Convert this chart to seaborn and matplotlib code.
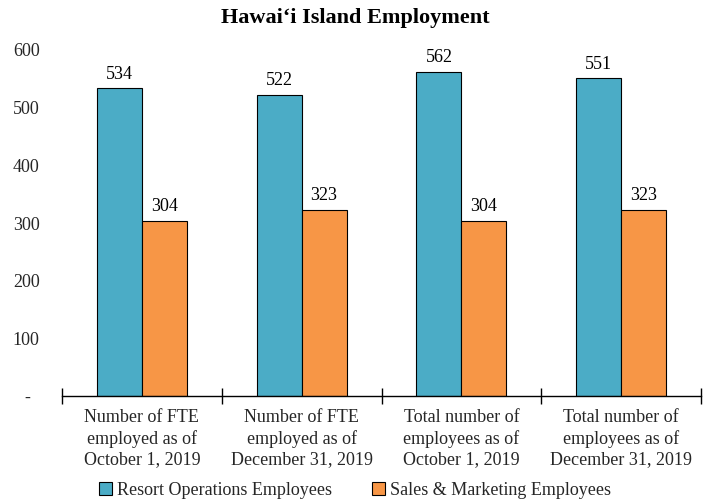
import matplotlib
matplotlib.use("Agg")
import matplotlib.pyplot as plt
import seaborn as sns
import pandas as pd
from matplotlib.patches import Patch

categories = [
    "Number of FTE\nemployed as of\nOctober 1, 2019",
    "Number of FTE\nemployed as of\nDecember 31, 2019",
    "Total number of\nemployees as of\nOctober 1, 2019",
    "Total number of\nemployees as of\nDecember 31, 2019",
]
series_names = ["Resort Operations Employees", "Sales & Marketing Employees"]
resort_values = [534, 522, 562, 551]
sales_values = [304, 323, 304, 323]
y_ticks = [0, 100, 200, 300, 400, 500, 600]
y_tick_labels = ["-  ", "100", "200", "300", "400", "500", "600"]
colors = ["#4BACC6", "#F79646"]

df = pd.DataFrame({
    "category": categories * 2,
    "series": [series_names[0]] * 4 + [series_names[1]] * 4,
    "value": resort_values + sales_values,
})

sns.set_theme(style="white")
plt.rcParams["font.family"] = ["Liberation Serif", "DejaVu Serif"]

fig = plt.figure(figsize=(7.1, 5.0), dpi=100)
ax = fig.add_axes([62 / 710, 1 - 396 / 500, (701 - 62) / 710, (396 - 50) / 500])

sns.barplot(data=df, x="category", y="value", hue="series", palette=colors,
            width=0.5625, edgecolor="black", linewidth=0.8, ax=ax, legend=False,
            saturation=1)

for cont in ax.containers:
    ax.bar_label(cont, fmt="%d", padding=4, fontsize=13, color="black")

ax.set_xlim(-0.5, 3.5)
ax.set_ylim(0, 600)
ax.set_yticks(y_ticks)
ax.set_yticklabels(y_tick_labels, fontsize=13)
ax.tick_params(axis="y", length=0, pad=16)
ax.tick_params(axis="x", which="major", length=0, pad=9, labelsize=13)
ax.set_xticks([-0.5, 0.5, 1.5, 2.5, 3.5], minor=True)
ax.tick_params(axis="x", which="minor", bottom=True, direction="inout", length=11,
               width=1, color="black")
for lbl in ax.get_xticklabels():
    lbl.set_linespacing(1.3)
ax.set_xlabel("")
ax.set_ylabel("")
for s in ["left", "top", "right"]:
    ax.spines[s].set_visible(False)
ax.spines["bottom"].set_color("black")
ax.spines["bottom"].set_linewidth(1)

fig.text(0.5, 1 - 18 / 500, "Hawai\u2018i Island Employment", fontsize=16,
         fontweight="bold", ha="center", va="center", color="black")

handles = [Patch(facecolor=c, edgecolor="black", linewidth=0.8) for c in colors]
fig.legend(handles, series_names, loc="lower center", bbox_to_anchor=(0.5, -0.03),
           ncol=2, frameon=False, fontsize=13, handlelength=0.7, handleheight=0.7,
           handletextpad=0.3, columnspacing=2.2)

fig.savefig("out.png", dpi=100)
